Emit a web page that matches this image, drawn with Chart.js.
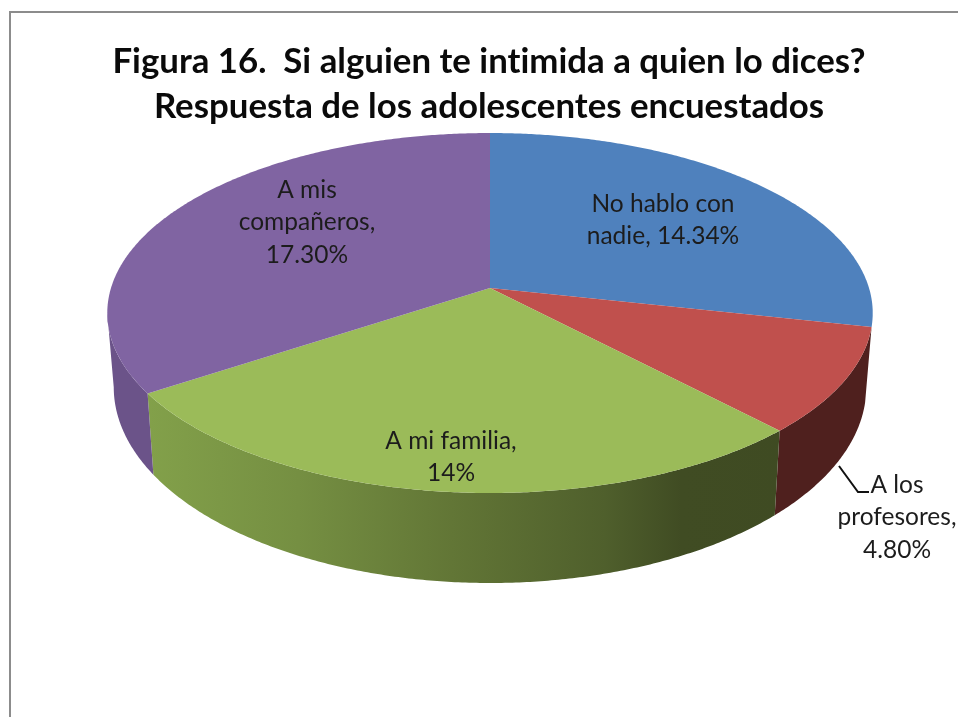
<!DOCTYPE html>
<html>
<head>
<meta charset="utf-8">
<title>Figura 16</title>
<script src="https://cdn.jsdelivr.net/npm/chart.js@4"></script>
<style>
  html, body { margin: 0; padding: 0; background: #fff; }
  canvas { display: block; }
</style>
</head>
<body>
<canvas id="pieChart" width="958" height="717"></canvas>
<script>
// Data
const categories = ['No hablo con nadie', 'A los profesores', 'A mi familia', 'A mis compañeros'];
const values = [14.34, 4.80, 14, 17.30];
const valueLabels = [
    ['No hablo con', 'nadie, 14.34%'],
    ['A los', 'profesores,', '4.80%'],
    ['A mi familia,', '14%'],
    ['A mis', 'compañeros,', '17.30%']
];
const titleLines = ['Figura 16.  Si alguien te intimida a quien lo dices?', 'Respuesta de los adolescentes encuestados'];

// Look of the slices
const faceColors = ['#4f81bd', '#c0504d', '#9bbb59', '#8064a2'];
const labelCenters = [[663, 204], [897, 485], [451, 441], [307, 190]];

// Perspective of the disc: top rim and bottom rim of the 3D pie
const topRim = { x: 490, y: 288, r: 379, k: 176.5, p: 0.139 };
const bottomRim = { x: 490, y: 360, r: 372.6, k: 192, p: 0.139 };
const wallFrom = Math.asin(0.139);            // right silhouette
const wallTo = Math.PI - Math.asin(0.139);    // left silhouette

function project(rim, angle) {
    const u = Math.cos(angle);
    const v = Math.sin(angle);
    const w = 1 - rim.p * v;
    return [rim.x + rim.r * u / w, rim.y + rim.k * v / w];
}

function traceRim(ctx, rim, from, to) {
    const steps = Math.max(2, Math.ceil(Math.abs(to - from) * 120));
    for (let i = 0; i <= steps; i++) {
        const p = project(rim, from + (to - from) * i / steps);
        ctx.lineTo(p[0], p[1]);
    }
}

function wallFill(ctx, index) {
    if (index === 1) return '#4f201e';
    if (index === 3) return '#6b5389';
    const g = ctx.createLinearGradient(107, 0, 873, 0);
    g.addColorStop(0, '#86a54c');
    g.addColorStop(0.25, '#758f42');
    g.addColorStop(0.45, '#627636');
    g.addColorStop(0.65, '#4f5f2c');
    g.addColorStop(0.75, '#404c23');
    g.addColorStop(1, '#3e4a22');
    return g;
}

const pie3d = {
    id: 'pie3d',
    beforeDatasetsDraw(chart) {
        const ctx = chart.ctx;
        const arcs = chart.getDatasetMeta(0).data;

        ctx.save();
        // side walls first (the blue slice has no visible wall)
        arcs.forEach((arc, i) => {
            if (i === 0) return;
            const from = Math.max(arc.startAngle, wallFrom);
            const to = Math.min(arc.endAngle, wallTo);
            if (to <= from) return;
            ctx.beginPath();
            traceRim(ctx, topRim, from, to);
            traceRim(ctx, bottomRim, to, from);
            ctx.closePath();
            ctx.fillStyle = wallFill(ctx, i);
            ctx.fill();
        });

        // top faces
        arcs.forEach((arc, i) => {
            ctx.beginPath();
            ctx.moveTo(topRim.x, topRim.y);
            traceRim(ctx, topRim, arc.startAngle, arc.endAngle);
            ctx.closePath();
            ctx.fillStyle = faceColors[i];
            ctx.fill();
        });
        ctx.restore();
        return false;
    },
    afterDraw(chart) {
        const ctx = chart.ctx;
        ctx.save();
        // leader line of the small slice
        ctx.beginPath();
        ctx.moveTo(839, 466);
        ctx.lineTo(858, 492);
        ctx.lineTo(869, 492);
        ctx.strokeStyle = '#111';
        ctx.lineWidth = 2;
        ctx.stroke();

        ctx.font = '24.5px Lato';
        ctx.fillStyle = '#1c1c1c';
        ctx.textAlign = 'center';
        ctx.textBaseline = 'middle';
        valueLabels.forEach((lines, i) => {
            lines.forEach((line, j) => {
                ctx.fillText(line, labelCenters[i][0], labelCenters[i][1] + j * 32.5);
            });
        });
        ctx.restore();
    }
};

const chartFrame = {
    id: 'chartFrame',
    beforeDraw(chart) {
        const ctx = chart.ctx;
        ctx.textRendering = 'optimizeSpeed';
        ctx.save();
        ctx.fillStyle = '#fff';
        ctx.fillRect(0, 0, chart.width, chart.height);
        ctx.strokeStyle = '#8c8c8c';
        ctx.lineWidth = 2;
        ctx.strokeRect(10, 12, chart.width + 20, chart.height + 20);
        ctx.restore();
    }
};

new Chart(document.getElementById('pieChart'), {
    type: 'pie',
    data: {
        labels: categories,
        datasets: [{
            data: values,
            backgroundColor: faceColors,
            borderWidth: 0
        }]
    },
    options: {
        responsive: false,
        animation: false,
        layout: { padding: { left: 20, top: 39 } },
        plugins: {
            legend: { display: false },
            tooltip: { enabled: false },
            title: {
                display: true,
                text: titleLines,
                color: '#0a0a0a',
                font: { family: 'Lato', size: 34.8, weight: 'bold', lineHeight: 1.293 },
                padding: 0
            }
        }
    },
    plugins: [chartFrame, pie3d]
});
</script>
</body>
</html>
